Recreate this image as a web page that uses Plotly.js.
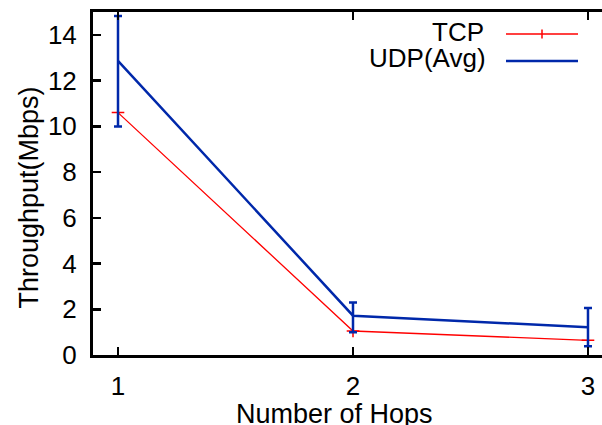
<!DOCTYPE html>
<html>
<head>
<meta charset="utf-8">
<script src="https://cdn.plot.ly/plotly-3.0.1.min.js"></script>
<style>html,body{margin:0;padding:0;background:#fff;}#chart{width:602px;height:425px;}</style>
</head>
<body>
<div id="chart"></div>
<script>
const hops = [1, 2, 3];
const tcpThroughput = [10.6, 1.05, 0.64];
const udpAvg = [12.86, 1.72, 1.21];
const udpErrPlus = [1.97, 0.58, 0.85];
const udpErrMinus = [2.87, 0.72, 0.83];
const tickValsY = [0, 2, 4, 6, 8, 10, 12, 14];
const tickValsX = [1, 2, 3];
const seriesNames = ['TCP', 'UDP(Avg)'];
const xTitle = 'Number of Hops';
const yTitle = 'Throughput(Mbps)';

const FONT = 'Liberation Sans, Arial, Helvetica, sans-serif';
const RED = '#ff0000';
const BLUE = '#0028aa';
const FS = 26;

const traces = [
  {
    x: hops, y: tcpThroughput, name: seriesNames[0], type: 'scatter', mode: 'lines+markers',
    line: {color: RED, width: 1.3},
    marker: {symbol: 'cross-thin-open', size: 9, color: RED, line: {color: RED, width: 1.5}},
    showlegend: false
  },
  {
    x: hops, y: udpAvg, name: seriesNames[1], type: 'scatter', mode: 'lines',
    line: {color: BLUE, width: 2.5},
    error_y: {type: 'data', symmetric: false, array: udpErrPlus, arrayminus: udpErrMinus,
              color: BLUE, thickness: 2.5, width: 4},
    showlegend: false
  }
];

function px2x(p) { return (p - 93) / 509; }
function px2y(p) { return (355 - p) / 343; }

const layout = {
  width: 602, height: 425,
  margin: {l: 93, r: 0, t: 12, b: 70},
  paper_bgcolor: '#fff', plot_bgcolor: '#fff',
  font: {family: FONT, size: FS, color: '#000'},
  showlegend: false,
  xaxis: {
    range: [0.8936, 3.0596], tickvals: tickValsX, ticktext: tickValsX.map(String),
    showgrid: false, zeroline: false, showline: true, linecolor: '#000', linewidth: 3,
    mirror: 'ticks', ticks: 'inside', ticklen: 8, tickwidth: 2.5, tickcolor: '#000',
    tickfont: {family: FONT, size: FS, color: '#000'}, ticklabelstandoff: 6
  },
  yaxis: {
    range: [0, 15], tickvals: tickValsY, ticktext: tickValsY.map(String),
    showgrid: false, zeroline: false, showline: true, linecolor: '#000', linewidth: 3,
    mirror: false, ticks: 'inside', ticklen: 8, tickwidth: 2.5, tickcolor: '#000',
    tickfont: {family: FONT, size: FS, color: '#000'}, ticklabelstandoff: 8
  },
  annotations: [
    {text: xTitle, xref: 'paper', yref: 'paper', x: px2x(334), y: px2y(414),
     xanchor: 'center', yanchor: 'middle', showarrow: false, font: {family: FONT, size: 27, color: '#000'}},
    {text: yTitle, xref: 'paper', yref: 'paper', x: px2x(28), y: px2y(197.5), textangle: -90,
     xanchor: 'center', yanchor: 'middle', showarrow: false, font: {family: FONT, size: 27, color: '#000'}},
    {text: seriesNames[0], xref: 'paper', yref: 'paper', x: px2x(486), y: px2y(32),
     xanchor: 'right', yanchor: 'middle', showarrow: false, font: {family: FONT, size: FS, color: '#000'}},
    {text: seriesNames[1], xref: 'paper', yref: 'paper', x: px2x(488), y: px2y(58),
     xanchor: 'right', yanchor: 'middle', showarrow: false, font: {family: FONT, size: FS, color: '#000'}}
  ],
  shapes: [
    {type: 'line', xref: 'paper', yref: 'paper', x0: px2x(506), x1: px2x(578), y0: px2y(34), y1: px2y(34),
     line: {color: RED, width: 1.3}},
    {type: 'line', xref: 'paper', yref: 'paper', x0: px2x(542), x1: px2x(542), y0: px2y(29.5), y1: px2y(38.5),
     line: {color: RED, width: 1.5}},
    {type: 'line', xref: 'paper', yref: 'paper', x0: px2x(506), x1: px2x(578), y0: px2y(61), y1: px2y(61),
     line: {color: BLUE, width: 2.5}}
  ]
};

Plotly.newPlot('chart', traces, layout, {displayModeBar: false, staticPlot: true});
</script>
</body>
</html>
